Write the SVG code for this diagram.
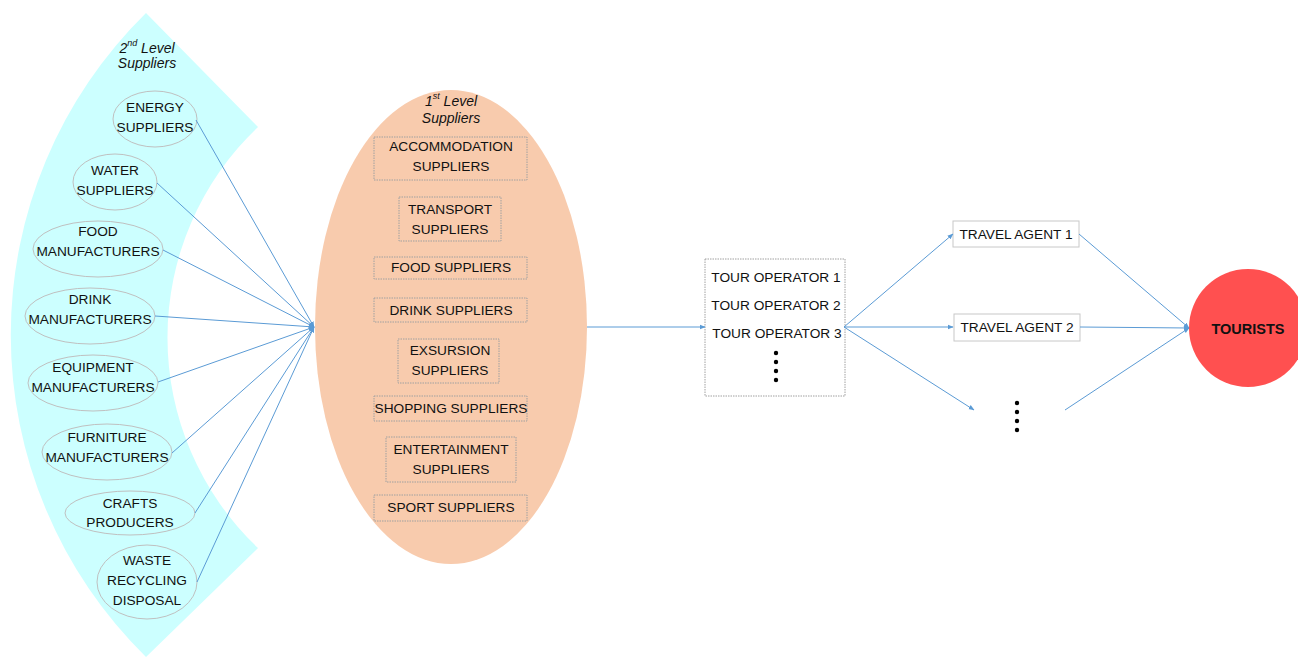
<svg xmlns="http://www.w3.org/2000/svg" width="1298" height="657" viewBox="0 0 1298 657">
<defs>
<marker id="arr" viewBox="0 0 10 10" refX="9" refY="5" markerWidth="6" markerHeight="6" markerUnits="userSpaceOnUse" orient="auto">
<path d="M0,1 L10,5 L0,9 z" fill="#5b9bd5"/>
</marker>
<style>
text{font-family:"Liberation Sans",Arial,sans-serif;font-size:13.7px;fill:#111;text-anchor:middle;dominant-baseline:central}
.it{font-style:italic;font-size:14px}
.e2{fill:#ccffff;stroke:#c0c0c0;stroke-width:1}
.box{fill:none;stroke:#a0a0a0;stroke-width:1;stroke-dasharray:1.5 1}
.sbox{fill:#fff;stroke:#c8c8c8;stroke-width:1}
.ln{stroke:#5b9bd5;stroke-width:1;fill:none;marker-end:url(#arr)}
.dot{fill:#000}
</style>
</defs>
<rect width="1298" height="657" fill="#fff"/>
<g id="band">
<path d="M146,13 L258,127 A290,290 0 0 0 258,548 L146,657 A451,451 0 0 1 146,13 Z" fill="#ccffff"/>
<text class="it" x="147" y="48">2<tspan dy="-5" font-size="9">nd</tspan><tspan dy="5"> Level</tspan></text>
<text class="it" x="147" y="63">Suppliers</text>
</g>
<g id="first-level">
<ellipse cx="451" cy="327" rx="136" ry="237" fill="#f8cbad"/>
<text class="it" x="451" y="101">1<tspan dy="-5" font-size="9">st</tspan><tspan dy="5"> Level</tspan></text>
<text class="it" x="451" y="118">Suppliers</text>
</g>
<g id="energy"><ellipse class="e2" cx="155" cy="119" rx="42" ry="28"/><text x="155" y="107">ENERGY</text><text x="155" y="127">SUPPLIERS</text></g>
<g id="water"><ellipse class="e2" cx="115" cy="182" rx="42" ry="28"/><text x="115" y="170">WATER</text><text x="115" y="190">SUPPLIERS</text></g>
<g id="food-man"><ellipse class="e2" cx="98" cy="249" rx="65" ry="28"/><text x="98" y="231">FOOD</text><text x="98" y="251">MANUFACTURERS</text></g>
<g id="drink-man"><ellipse class="e2" cx="90" cy="316" rx="65" ry="28"/><text x="90" y="299">DRINK</text><text x="90" y="319">MANUFACTURERS</text></g>
<g id="equip-man"><ellipse class="e2" cx="93" cy="383" rx="65" ry="28"/><text x="93" y="367">EQUIPMENT</text><text x="93" y="387">MANUFACTURERS</text></g>
<g id="furn-man"><ellipse class="e2" cx="107" cy="452" rx="65" ry="28"/><text x="107" y="437">FURNITURE</text><text x="107" y="457">MANUFACTURERS</text></g>
<g id="crafts"><ellipse class="e2" cx="130" cy="513" rx="65" ry="22"/><text x="130" y="503">CRAFTS</text><text x="130" y="522">PRODUCERS</text></g>
<g id="waste"><ellipse class="e2" cx="147" cy="582" rx="50" ry="37"/><text x="147" y="560">WASTE</text><text x="147" y="580">RECYCLING</text><text x="147" y="600">DISPOSAL</text></g>
<g id="accom"><rect class="box" x="374" y="137" width="153" height="43"/><text x="451" y="146">ACCOMMODATION</text><text x="451" y="166">SUPPLIERS</text></g>
<g id="transport"><rect class="box" x="399" y="197" width="102" height="44"/><text x="450" y="209">TRANSPORT</text><text x="450" y="229">SUPPLIERS</text></g>
<g id="food-sup"><rect class="box" x="374" y="257" width="153" height="22"/><text x="451" y="267">FOOD SUPPLIERS</text></g>
<g id="drink-sup"><rect class="box" x="374" y="298" width="153" height="24"/><text x="451" y="310">DRINK SUPPLIERS</text></g>
<g id="exsursion"><rect class="box" x="398" y="339" width="101" height="44"/><text x="450" y="350">EXSURSION</text><text x="450" y="370">SUPPLIERS</text></g>
<g id="shopping"><rect class="box" x="374" y="396" width="153" height="25"/><text x="451" y="408">SHOPPING SUPPLIERS</text></g>
<g id="entertain"><rect class="box" x="386" y="437" width="130" height="45"/><text x="451" y="449">ENTERTAINMENT</text><text x="451" y="469">SUPPLIERS</text></g>
<g id="sport"><rect class="box" x="374" y="495" width="153" height="26"/><text x="451" y="507">SPORT SUPPLIERS</text></g>
<g id="tour-ops"><rect class="box" x="705" y="259" width="140" height="137"/>
<text x="776" y="277">TOUR OPERATOR 1</text><text x="776" y="305">TOUR OPERATOR 2</text><text x="777" y="333">TOUR OPERATOR 3</text>
<circle class="dot" cx="776" cy="353" r="2.2"/><circle class="dot" cx="776" cy="362" r="2.2"/><circle class="dot" cx="776" cy="371" r="2.2"/><circle class="dot" cx="776" cy="380" r="2.2"/></g>
<g id="ta1"><rect class="sbox" x="953" y="221" width="126" height="26"/><text x="1016" y="234">TRAVEL AGENT 1</text></g>
<g id="ta2"><rect class="sbox" x="954" y="314" width="126" height="27"/><text x="1017" y="327">TRAVEL AGENT 2</text></g>
<g id="ta-more"><circle class="dot" cx="1017" cy="403" r="2.2"/><circle class="dot" cx="1017" cy="412" r="2.2"/><circle class="dot" cx="1017" cy="421" r="2.2"/><circle class="dot" cx="1017" cy="430" r="2.2"/></g>
<g id="tourists"><circle cx="1248" cy="328" r="59" fill="#ff5050"/><text x="1248" y="329" style="font-weight:bold;font-size:14.5px">TOURISTS</text></g>
<g id="connectors">
<line class="ln" x1="196" y1="120" x2="314" y2="327"/>
<line class="ln" x1="157" y1="183" x2="314" y2="327"/>
<line class="ln" x1="163" y1="250" x2="314" y2="327"/>
<line class="ln" x1="155" y1="316" x2="314" y2="327"/>
<line class="ln" x1="158" y1="382" x2="314" y2="327"/>
<line class="ln" x1="172" y1="453" x2="314" y2="327"/>
<line class="ln" x1="195" y1="513" x2="314" y2="327"/>
<line class="ln" x1="197" y1="582" x2="314" y2="327"/>
<line class="ln" x1="587" y1="327" x2="705" y2="327"/>
<line class="ln" x1="844" y1="327" x2="953" y2="234"/>
<line class="ln" x1="844" y1="327" x2="953" y2="327"/>
<line class="ln" x1="844" y1="327" x2="974" y2="410"/>
<line class="ln" x1="1079" y1="234" x2="1189" y2="328"/>
<line class="ln" x1="1080" y1="327" x2="1189" y2="328"/>
<line class="ln" x1="1065" y1="410" x2="1189" y2="328"/>
</g>
</svg>
